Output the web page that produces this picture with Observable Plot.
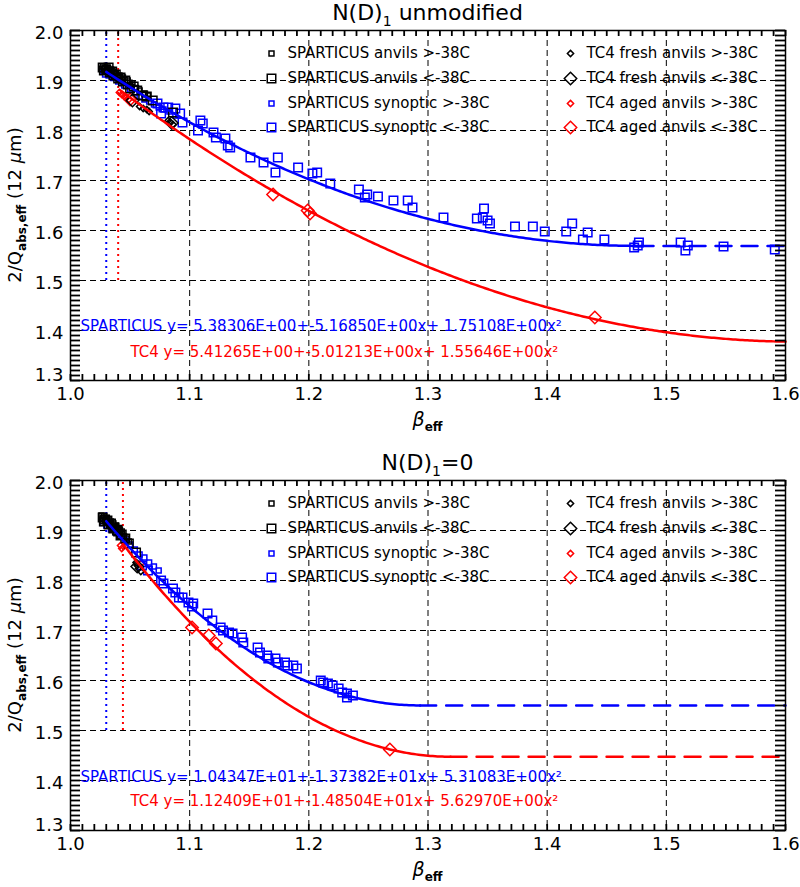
<!DOCTYPE html>
<html><head><meta charset="utf-8">
<script src="https://cdn.jsdelivr.net/npm/d3@7"></script>
<script src="https://cdn.jsdelivr.net/npm/@observablehq/plot@0.6"></script>
<style>
body{margin:0;background:#fff;}
#c{width:800px;}
svg{display:block;}
</style></head><body><div id="c"></div>
<script>
// ---------- shared axis data ----------
const xDomain = [1.0, 1.6];
const yDomain = [1.3, 2.0];
const xTickLabels = [1.0, 1.1, 1.2, 1.3, 1.4, 1.5, 1.6];
const yTickLabels = [1.4, 1.5, 1.6, 1.7, 1.8, 1.9, 2.0];
const yBottomLabel = [1.3];
const xGrid = [1.1, 1.2, 1.3, 1.4, 1.5];
const yGrid = [1.4, 1.5, 1.6, 1.7, 1.8, 1.9];
const xMinor = d3.range(100, 161).map(i => i / 100);
const yMinor = d3.range(130, 201).map(i => i / 100);

const legendLabels = [
  "SPARTICUS anvils >-38C", "SPARTICUS anvils <-38C",
  "SPARTICUS synoptic >-38C", "SPARTICUS synoptic <-38C",
  "TC4 fresh anvils >-38C", "TC4 fresh anvils <-38C",
  "TC4 aged anvils >-38C", "TC4 aged anvils <-38C"
];

// ---------- top panel: N(D)1 unmodified ----------
const topTitle = ["N(D)", "1", " unmodified"];
const topSparticusCoef = [5.38306, -5.16850, 1.75108];
const topTC4Coef = [5.41265, -5.01213, 1.55646];
const topSparticusEq = "SPARTICUS y= 5.38306E+00+-5.16850E+00x+ 1.75108E+00x\u00b2";
const topTC4Eq = "TC4 y= 5.41265E+00+-5.01213E+00x+ 1.55646E+00x\u00b2";
const topVLines = [[1.030, 1.5, 2.0], [1.040, 1.5, 2.0]];
const topFitStart = [1.030, 1.042];

const topSpAnvilWarm = [[1.027,1.928],[1.028,1.922],[1.029,1.925],[1.030,1.918],[1.031,1.926],[1.032,1.921],[1.033,1.915],[1.034,1.922],[1.035,1.912],[1.036,1.918],[1.037,1.908],[1.038,1.914],[1.040,1.905],[1.041,1.910],[1.043,1.900],[1.044,1.906],[1.046,1.896],[1.048,1.900],[1.050,1.890],[1.052,1.894],[1.055,1.885],[1.058,1.880],[1.062,1.874],[1.065,1.870]];
const topSpAnvilCold = [[1.027,1.926],[1.028,1.920],[1.030,1.922],[1.032,1.926],[1.033,1.916],[1.035,1.918],[1.036,1.910],[1.038,1.912],[1.040,1.904],[1.042,1.906],[1.044,1.898],[1.046,1.900],[1.048,1.892],[1.050,1.884],[1.053,1.888],[1.056,1.880],[1.061,1.870],[1.064,1.868],[1.069,1.860],[1.086,1.836]];
const topSpSynWarm = [[1.027,1.918],[1.029,1.912],[1.032,1.910],[1.036,1.905],[1.040,1.898],[1.045,1.890],[1.050,1.882],[1.054,1.876],[1.058,1.868],[1.062,1.862],[1.066,1.858],[1.070,1.852],[1.074,1.846],[1.078,1.842],[1.083,1.838],[1.088,1.830]];
const topSpSynCold = [[1.073,1.854],[1.078,1.846],[1.082,1.846],[1.076,1.834],[1.088,1.844],[1.092,1.834],[1.094,1.816],[1.109,1.820],[1.111,1.814],[1.107,1.800],[1.120,1.796],[1.122,1.786],[1.130,1.784],[1.132,1.770],[1.134,1.766],[1.151,1.746],[1.162,1.736],[1.174,1.746],[1.172,1.716],[1.191,1.726],[1.203,1.714],[1.207,1.716],[1.218,1.694],[1.242,1.682],[1.249,1.672],[1.258,1.668],[1.247,1.666],[1.271,1.660],[1.283,1.660],[1.287,1.646],[1.313,1.626],[1.341,1.624],[1.347,1.644],[1.346,1.626],[1.350,1.620],[1.352,1.614],[1.373,1.608],[1.388,1.608],[1.398,1.598],[1.416,1.598],[1.421,1.614],[1.434,1.596],[1.430,1.582],[1.448,1.582],[1.473,1.566],[1.476,1.570],[1.477,1.576],[1.512,1.576],[1.518,1.570],[1.516,1.560],[1.548,1.568],[1.591,1.562]];
const topTcFreshWarm = [[1.058,1.848],[1.061,1.844],[1.064,1.842],[1.066,1.838],[1.082,1.820],[1.084,1.816],[1.086,1.812]];
const topTcFreshCold = [[1.052,1.860],[1.085,1.815]];
const topTcAgedWarm = [[1.041,1.876],[1.043,1.872],[1.045,1.868],[1.047,1.866],[1.049,1.862]];
const topTcAgedCold = [[1.050,1.862],[1.170,1.672],[1.199,1.640],[1.201,1.634],[1.440,1.426]];

// ---------- bottom panel: N(D)1=0 ----------
const botTitle = ["N(D)", "1", "=0"];
const botSparticusCoef = [10.4347, -13.7382, 5.31083];
const botTC4Coef = [11.2409, -14.8504, 5.62970];
const botSparticusEq = "SPARTICUS y= 1.04347E+01+-1.37382E+01x+ 5.31083E+00x\u00b2";
const botTC4Eq = "TC4 y= 1.12409E+01+-1.48504E+01x+ 5.62970E+00x\u00b2";
const botVLines = [[1.030, 1.5, 2.0], [1.044, 1.5, 2.0]];
const botFitStart = [1.030, 1.044];

const botSpAnvilWarm = [[1.026,1.930],[1.027,1.924],[1.028,1.928],[1.029,1.920],[1.030,1.925],[1.031,1.916],[1.032,1.922],[1.033,1.912],[1.034,1.918],[1.035,1.908],[1.036,1.914],[1.037,1.904],[1.038,1.910],[1.040,1.900],[1.041,1.905],[1.042,1.894],[1.043,1.898],[1.045,1.888],[1.047,1.884],[1.049,1.878]];
const botSpAnvilCold = [[1.027,1.926],[1.028,1.918],[1.029,1.922],[1.031,1.920],[1.032,1.912],[1.034,1.914],[1.036,1.904],[1.037,1.906],[1.039,1.900],[1.040,1.898],[1.042,1.890],[1.043,1.892],[1.046,1.884],[1.049,1.874],[1.055,1.856]];
const botSpSynWarm = [[1.027,1.915],[1.030,1.910],[1.034,1.902],[1.038,1.896],[1.042,1.888],[1.046,1.880],[1.050,1.872],[1.054,1.862],[1.058,1.852],[1.062,1.846],[1.066,1.836],[1.070,1.828],[1.074,1.820]];
const botSpSynCold = [[1.060,1.830],[1.065,1.820],[1.076,1.800],[1.078,1.794],[1.086,1.784],[1.088,1.776],[1.091,1.766],[1.094,1.766],[1.099,1.756],[1.102,1.748],[1.103,1.754],[1.115,1.734],[1.119,1.720],[1.126,1.706],[1.128,1.700],[1.133,1.696],[1.136,1.694],[1.144,1.686],[1.145,1.676],[1.157,1.666],[1.159,1.656],[1.165,1.650],[1.166,1.644],[1.172,1.644],[1.174,1.636],[1.180,1.636],[1.182,1.630],[1.187,1.630],[1.190,1.624],[1.210,1.600],[1.212,1.596],[1.216,1.594],[1.220,1.590],[1.225,1.584],[1.228,1.576],[1.232,1.574],[1.232,1.566],[1.237,1.570]];
const botTcFreshWarm = [[1.055,1.836],[1.056,1.830],[1.057,1.824],[1.059,1.818]];
const botTcFreshCold = [[1.056,1.828]];
const botTcAgedWarm = [[1.042,1.870],[1.043,1.864],[1.059,1.834]];
const botTcAgedCold = [[1.102,1.706],[1.116,1.690],[1.122,1.674],[1.268,1.462]];

// ---------- helpers ----------
function fit(coef, x0) {
  const [a, b, c] = coef;
  const f = x => a + b * x + c * x * x;
  const xv = Math.min(-b / (2 * c), xDomain[1]);
  const xs = d3.range(x0, xv, 0.002).concat([xv]);
  const solid = xs.map(x => ({x, y: f(x)}));
  const dashed = xv < xDomain[1] ? [{x: xv, y: f(xv)}, {x: xDomain[1], y: f(xv)}] : [];
  return {solid, dashed};
}

function legendMarks() {
  const specs = [
    ["square", 2.8, "black"], ["square", 4.8, "black"],
    ["square", 2.8, "blue"], ["square", 4.8, "blue"],
    ["diamond2", 2.8, "black"], ["diamond2", 5.6, "black"],
    ["diamond2", 2.8, "red"], ["diamond2", 5.6, "red"]
  ];
  const rowDy = [23, 48, 73, 97];
  const marks = [];
  legendLabels.forEach((lab, i) => {
    const col = Math.floor(i / 4), row = i % 4;
    const [sym, r, col0] = specs[i];
    marks.push(Plot.dot([0], {frameAnchor: "top-left", dx: col ? 500 : 201, dy: rowDy[row], symbol: sym, r, stroke: col0, fill: "none", strokeWidth: 1.5}));
    marks.push(Plot.text([lab], {frameAnchor: "top-left", dx: col ? 516 : 217, dy: rowDy[row], text: d => d, textAnchor: "start", lineAnchor: "middle", fontSize: 15, fill: "black"}));
  });
  return marks;
}

// tick lengths in pixels, converted to data units of the 715x350 px plot area
const PW = 715, PH = 350;
const yTickLen = 10 * (xDomain[1] - xDomain[0]) / PW;
const xTickLen = 6 * (yDomain[1] - yDomain[0]) / PH;

function panel(cfg) {
  const sp = fit(cfg.spCoef, cfg.fitStart[0]);
  const tc = fit(cfg.tcCoef, cfg.fitStart[1]);
  const dot = (arr, sym, r, color) => Plot.dot(arr, {x: d => d[0], y: d => d[1], symbol: sym, r, stroke: color, fill: "none", strokeWidth: 1.5});
  const vcol = ["blue", "red"];
  const tickStyle = {stroke: "black", strokeOpacity: 1, strokeWidth: 1.8};
  const marks = [
    Plot.gridX(xGrid, {stroke: "black", strokeOpacity: 1, strokeWidth: 1, strokeDasharray: "6,4"}),
    Plot.gridY(yGrid, {stroke: "black", strokeOpacity: 1, strokeWidth: 1, strokeDasharray: "6,4"}),
    ...cfg.vlines.map((v, i) => Plot.ruleX([v], {x: d => d[0], y1: d => d[1], y2: d => d[2], stroke: vcol[i], strokeWidth: 2, strokeDasharray: "2,4"})),
    dot(cfg.synCold, "square", 4.8, "blue"),
    dot(cfg.synWarm, "square", 2.8, "blue"),
    dot(cfg.agedCold, "diamond2", 5.6, "red"),
    dot(cfg.agedWarm, "diamond2", 2.8, "red"),
    dot(cfg.anvilWarm, "square", 2.8, "black"),
    dot(cfg.anvilCold, "square", 4.8, "black"),
    dot(cfg.freshWarm, "diamond2", 2.8, "black"),
    dot(cfg.freshCold, "diamond2", 5.6, "black"),
    Plot.line(sp.solid, {x: "x", y: "y", stroke: "blue", strokeWidth: 2.5}),
    Plot.line(sp.dashed, {x: "x", y: "y", stroke: "blue", strokeWidth: 2.5, strokeDasharray: "16,10"}),
    Plot.line(tc.solid, {x: "x", y: "y", stroke: "red", strokeWidth: 2.5}),
    Plot.line(tc.dashed, {x: "x", y: "y", stroke: "red", strokeWidth: 2.5, strokeDasharray: "16,10"}),
    ...legendMarks(),
    Plot.text([cfg.spEq], {frameAnchor: "top-left", dx: 10, dy: cfg.eqDy[0], text: d => d, textAnchor: "start", lineAnchor: "middle", fontSize: 15, fill: "blue"}),
    Plot.text([cfg.tcEq], {frameAnchor: "top-left", dx: 60, dy: cfg.eqDy[1], text: d => d, textAnchor: "start", lineAnchor: "middle", fontSize: 15, fill: "red"}),
    // inward minor ticks on all four sides
    Plot.ruleY(yMinor, {y: d => d, x1: () => xDomain[0], x2: () => xDomain[0] + yTickLen, ...tickStyle}),
    Plot.ruleY(yMinor, {y: d => d, x1: () => xDomain[1] - yTickLen, x2: () => xDomain[1], ...tickStyle}),
    Plot.ruleX(xMinor, {x: d => d, y1: () => yDomain[0], y2: () => yDomain[0] + xTickLen, ...tickStyle}),
    Plot.ruleX(xMinor, {x: d => d, y1: () => yDomain[1] - xTickLen, y2: () => yDomain[1], ...tickStyle}),
    Plot.frame({stroke: "black", strokeWidth: 1.5}),
    Plot.axisX(xTickLabels, {anchor: "bottom", tickSize: 0, tickPadding: 7, tickFormat: d3.format(".1f"), fontSize: 18, label: null}),
    Plot.axisY(yTickLabels, {anchor: "left", tickSize: 0, tickPadding: 7, dy: 3, tickFormat: d3.format(".1f"), fontSize: 18, label: null}),
    Plot.axisY(yBottomLabel, {anchor: "left", tickSize: 0, tickPadding: 7, dy: -5, tickFormat: d3.format(".1f"), fontSize: 18, label: null})
  ];
  const svgEl = Plot.plot({
    width: 800, height: cfg.height,
    marginLeft: 70, marginRight: 15, marginTop: cfg.mt, marginBottom: cfg.mb,
    x: {domain: xDomain, label: null},
    y: {domain: yDomain, label: null},
    style: {fontFamily: "DejaVu Sans", fontSize: "15px", color: "black", background: "white", overflow: "visible"},
    marks
  });
  const svg = d3.select(svgEl);
  const left = 70, right = 800 - 15, top = cfg.mt, bottom = cfg.height - cfg.mb;
  const cx = (left + right) / 2;
  // title
  const t = svg.append("text").attr("x", cx).attr("y", cfg.titleY).attr("text-anchor", "middle")
    .attr("font-family", "DejaVu Sans").attr("font-size", 22).attr("fill", "black");
  t.append("tspan").text(cfg.title[0]);
  t.append("tspan").attr("dy", 6).attr("font-size", 14).text(cfg.title[1]);
  t.append("tspan").attr("dy", -6).text(cfg.title[2]);
  // x label
  const xl = svg.append("text").attr("x", cx).attr("y", cfg.xlabY).attr("text-anchor", "middle")
    .attr("font-family", "DejaVu Sans").attr("font-size", 19).attr("fill", "black");
  xl.append("tspan").attr("font-style", "italic").text("\u03b2");
  xl.append("tspan").attr("dy", 5).attr("font-size", 12).attr("font-weight", "bold").text("eff");
  // y label
  const cy = (top + bottom) / 2;
  const yl = svg.append("text").attr("transform", `translate(21,${cy}) rotate(-90)`).attr("text-anchor", "middle")
    .attr("font-family", "DejaVu Sans").attr("font-size", 18).attr("fill", "black");
  yl.append("tspan").text("2/Q");
  yl.append("tspan").attr("dy", 5).attr("font-size", 12).attr("font-weight", "bold").text("abs,eff");
  yl.append("tspan").attr("dy", -5).text(" (12 ");
  yl.append("tspan").attr("font-style", "italic").text("\u03bc");
  yl.append("tspan").text("m)");
  return svgEl;
}

const c = document.getElementById("c");
c.appendChild(panel({
  height: 443, mt: 30, mb: 63, titleY: 20, xlabY: 426,
  title: topTitle, spCoef: topSparticusCoef, tcCoef: topTC4Coef, fitStart: topFitStart,
  spEq: topSparticusEq, tcEq: topTC4Eq, eqDy: [296, 322], vlines: topVLines,
  anvilWarm: topSpAnvilWarm, anvilCold: topSpAnvilCold, synWarm: topSpSynWarm, synCold: topSpSynCold,
  freshWarm: topTcFreshWarm, freshCold: topTcFreshCold, agedWarm: topTcAgedWarm, agedCold: topTcAgedCold
}));
c.appendChild(panel({
  height: 444, mt: 37, mb: 57, titleY: 27, xlabY: 433,
  title: botTitle, spCoef: botSparticusCoef, tcCoef: botTC4Coef, fitStart: botFitStart,
  spEq: botSparticusEq, tcEq: botTC4Eq, eqDy: [297, 321], vlines: botVLines,
  anvilWarm: botSpAnvilWarm, anvilCold: botSpAnvilCold, synWarm: botSpSynWarm, synCold: botSpSynCold,
  freshWarm: botTcFreshWarm, freshCold: botTcFreshCold, agedWarm: botTcAgedWarm, agedCold: botTcAgedCold
}));
</script></body></html>
